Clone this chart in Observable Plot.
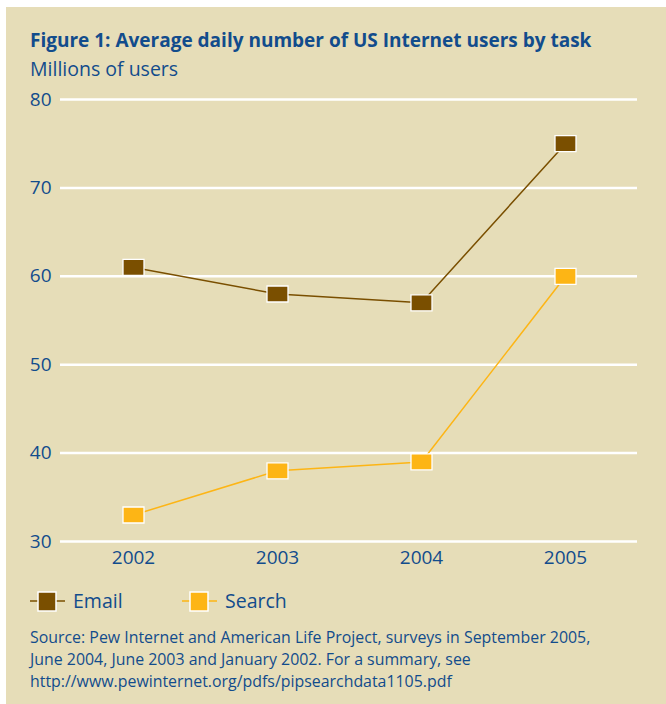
<!DOCTYPE html>
<html><head><meta charset="utf-8">
<script src="https://cdn.jsdelivr.net/npm/d3@7"></script>
<script src="https://cdn.jsdelivr.net/npm/@observablehq/plot@0.6"></script>
<style>
body{margin:0;background:#fff;font-family:"Open Sans",sans-serif;}
#panel{position:absolute;left:6px;top:7px;width:660px;height:697px;background:#E6DDB8;color:#124C8C;}
#title{position:absolute;left:24px;top:20px;font-size:19px;font-weight:bold;white-space:nowrap;}
#sub{position:absolute;left:24px;top:48px;font-size:19.5px;white-space:nowrap;}
#chart{position:absolute;left:0;top:73px;}
#legend{position:absolute;left:0;top:576px;width:660px;height:38px;overflow:visible;}
#source{position:absolute;left:24px;top:619px;font-size:15.9px;line-height:22px;white-space:nowrap;}
</style></head>
<body>
<div id="panel">
<div id="title">Figure 1: Average daily number of US Internet users by task</div>
<div id="sub">Millions of users</div>
<div id="chart"></div>
<svg id="legend"></svg>
<div id="source">Source: Pew Internet and American Life Project, surveys in September 2005,<br>June 2004, June 2003 and January 2002. For a summary, see<br>http://www.pewinternet.org/pdfs/pipsearchdata1105.pdf</div>
</div>
<script>
const years = ["2002","2003","2004","2005"];
const email = [61, 58, 57, 75];
const search = [33, 38, 39, 60];
const seriesNames = ["Email","Search"];
const seriesColors = ["#7A4F00","#FDB515"];
const yTicks = [30,40,50,60,70,80];

const data = [];
years.forEach((y,i)=>{ data.push({year:y, value:email[i], series:"Email"}); });
years.forEach((y,i)=>{ data.push({year:y, value:search[i], series:"Search"}); });

const rectSymbol = {draw(ctx){ ctx.rect(-10.5,-8,21,16); }};
const blue = "#124C8C";

const chart = Plot.plot({
  width: 660, height: 496,
  marginTop: 19, marginBottom: 35, marginLeft: 54, marginRight: 29,
  style: {background: "transparent", fontFamily: "Open Sans, sans-serif"},
  x: {type: "point", domain: years, padding: 0.5},
  y: {domain: [30, 80]},
  color: {domain: seriesNames, range: seriesColors},
  marks: [
    Plot.ruleY(yTicks, {stroke: "#fff", strokeWidth: 2.5}),
    Plot.axisY({ticks: yTicks, tickSize: 0, tickPadding: 9, fontSize: 19, fill: blue, label: null}),
    Plot.axisX({tickSize: 0, tickPadding: 9, fontSize: 19, fill: blue, label: null}),
    Plot.line(data, {x: "year", y: "value", z: "series", stroke: "series", strokeWidth: 1.5}),
    Plot.dot(data, {x: "year", y: "value", fill: "series", symbol: rectSymbol, stroke: "#fff", strokeWidth: 1.3, r: 8})
  ]
});
chart.querySelectorAll("text").forEach(t=>{ t.style.fill = blue; });
document.getElementById("chart").appendChild(chart);

// legend (page x = panel x + 6)
const lg = d3.select("#legend");
const lx = [24, 176];
seriesNames.forEach((n,i)=>{
  const g = lg.append("g").attr("transform", `translate(${lx[i]},18)`);
  g.append("line").attr("x1",0).attr("x2",35).attr("y1",0).attr("y2",0).attr("stroke",seriesColors[i]).attr("stroke-width",1.5);
  g.append("rect").attr("x",8).attr("y",-9).attr("width",18).attr("height",19).attr("fill",seriesColors[i]).attr("stroke","#fff").attr("stroke-width",1.5);
  g.append("text").attr("x",43).attr("y",7).text(n).attr("fill",blue).attr("font-size","19.5px").attr("font-family","Open Sans, sans-serif");
});
</script>
</body></html>
